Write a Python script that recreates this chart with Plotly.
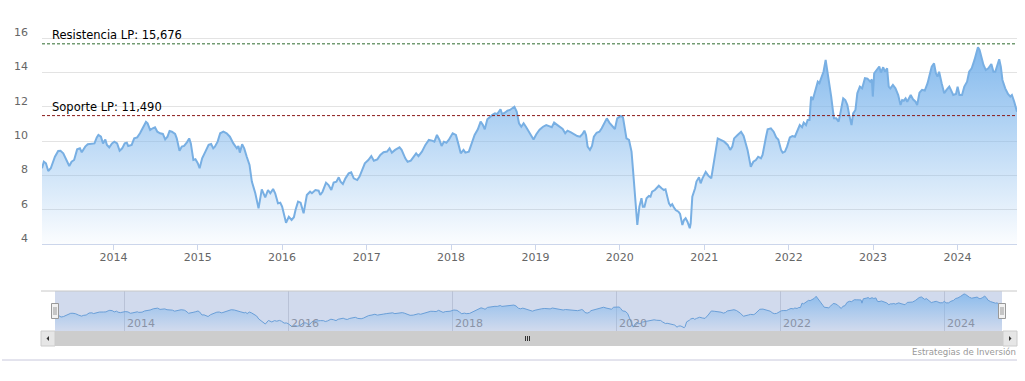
import plotly.graph_objects as go

# ---------------- data ----------------
dates = [
    "2013-02-26", "2013-03-06", "2013-03-15", "2013-03-25", "2013-04-05", "2013-04-13", "2013-04-23",
    "2013-05-07", "2013-05-17", "2013-05-29", "2013-06-10", "2013-06-24", "2013-07-04", "2013-07-15",
    "2013-07-28", "2013-08-09", "2013-08-17", "2013-09-01", "2013-09-12", "2013-09-29", "2013-10-11",
    "2013-10-21", "2013-10-28", "2013-11-08", "2013-11-17", "2013-11-27", "2013-12-04", "2013-12-14",
    "2013-12-26",
    "2014-01-05", "2014-01-17", "2014-01-28", "2014-02-08", "2014-02-19", "2014-02-28", "2014-03-06",
    "2014-03-21", "2014-04-01", "2014-04-14", "2014-04-26", "2014-05-10", "2014-05-22", "2014-05-29",
    "2014-06-09", "2014-06-20", "2014-06-30", "2014-07-10", "2014-07-22", "2014-08-03", "2014-08-13",
    "2014-08-23", "2014-09-01", "2014-09-11", "2014-09-25", "2014-10-02", "2014-10-14", "2014-10-24",
    "2014-11-03", "2014-11-15", "2014-11-25", "2014-12-02", "2014-12-13", "2014-12-22", "2015-01-01",
    "2015-01-09", "2015-01-20", "2015-02-03", "2015-02-17", "2015-02-28", "2015-03-09", "2015-03-16",
    "2015-03-28", "2015-04-08", "2015-04-22", "2015-05-06", "2015-05-20", "2015-06-04", "2015-06-19",
    "2015-06-26", "2015-07-02", "2015-07-12", "2015-07-21", "2015-08-01", "2015-08-13", "2015-08-23",
    "2015-09-07", "2015-09-21", "2015-10-05", "2015-10-20", "2015-11-01", "2015-11-11", "2015-11-23",
    "2015-12-02", "2015-12-14", "2015-12-24",
    "2016-01-01", "2016-01-18", "2016-01-30", "2016-02-11", "2016-02-21", "2016-02-28", "2016-03-10",
    "2016-03-21", "2016-04-03", "2016-04-17", "2016-05-01", "2016-05-09", "2016-05-24", "2016-06-07",
    "2016-06-14", "2016-06-24", "2016-07-09", "2016-07-20", "2016-08-01", "2016-08-11", "2016-08-23",
    "2016-09-02", "2016-09-10", "2016-09-20", "2016-10-01", "2016-10-15", "2016-10-26", "2016-11-06",
    "2016-11-21", "2016-12-01", "2016-12-12", "2016-12-24",
    "2017-01-08", "2017-01-21", "2017-02-01", "2017-02-16", "2017-03-01", "2017-03-15", "2017-03-30",
    "2017-04-10", "2017-04-20", "2017-05-04", "2017-05-23", "2017-06-01", "2017-06-17", "2017-06-27",
    "2017-07-11", "2017-07-23", "2017-08-03", "2017-08-13", "2017-08-28", "2017-09-12", "2017-09-27",
    "2017-10-11", "2017-10-21", "2017-11-01", "2017-11-12", "2017-11-21", "2017-12-01", "2017-12-12",
    "2017-12-22",
    "2018-01-08", "2018-01-22", "2018-02-01", "2018-02-12", "2018-02-24", "2018-03-04", "2018-03-19",
    "2018-04-03", "2018-04-13", "2018-04-27", "2018-05-09", "2018-05-19", "2018-05-27", "2018-06-07",
    "2018-06-18", "2018-06-29", "2018-07-10", "2018-07-20", "2018-08-03", "2018-08-10", "2018-08-22",
    "2018-09-02", "2018-09-13", "2018-09-23", "2018-10-02", "2018-10-12", "2018-10-22", "2018-11-01",
    "2018-11-11", "2018-11-21", "2018-12-05", "2018-12-15", "2018-12-24",
    "2019-01-05", "2019-01-19", "2019-02-03", "2019-02-17", "2019-03-01", "2019-03-13", "2019-03-23",
    "2019-04-03", "2019-04-14", "2019-04-29", "2019-05-10", "2019-05-20", "2019-06-04", "2019-06-18",
    "2019-07-01", "2019-07-13", "2019-07-24", "2019-08-01", "2019-08-08", "2019-08-15", "2019-08-25",
    "2019-09-03", "2019-09-11", "2019-09-23", "2019-10-05", "2019-10-15", "2019-10-26", "2019-11-06",
    "2019-11-17", "2019-11-29", "2019-12-11", "2019-12-21", "2019-12-31",
    "2020-01-06", "2020-01-15", "2020-01-21", "2020-01-30", "2020-02-10", "2020-02-21", "2020-02-28",
    "2020-03-09", "2020-03-17", "2020-03-26", "2020-04-04", "2020-04-10", "2020-04-17", "2020-04-26",
    "2020-05-06", "2020-05-13", "2020-05-20", "2020-06-01", "2020-06-09", "2020-06-18", "2020-06-30",
    "2020-07-10", "2020-07-17", "2020-07-26", "2020-08-01", "2020-08-08", "2020-08-15", "2020-08-22",
    "2020-08-30", "2020-09-11", "2020-09-18", "2020-09-28", "2020-10-05", "2020-10-12", "2020-10-20",
    "2020-10-30", "2020-11-03", "2020-11-10", "2020-11-22", "2020-11-28", "2020-12-09", "2020-12-16",
    "2020-12-24",
    "2021-01-07", "2021-01-19", "2021-01-31", "2021-02-14", "2021-02-28", "2021-03-13", "2021-03-28",
    "2021-04-12", "2021-04-23", "2021-05-02", "2021-05-10", "2021-05-25", "2021-06-09", "2021-06-20",
    "2021-06-30", "2021-07-07", "2021-07-21", "2021-08-01", "2021-08-12", "2021-08-22", "2021-09-03",
    "2021-09-10", "2021-09-25", "2021-10-02", "2021-10-16", "2021-10-28", "2021-11-08", "2021-11-17",
    "2021-11-29", "2021-12-06", "2021-12-16", "2021-12-25",
    "2022-01-06", "2022-01-17", "2022-01-28", "2022-02-08", "2022-02-18", "2022-02-28", "2022-03-07",
    "2022-03-17", "2022-03-24", "2022-04-01", "2022-04-08", "2022-04-15", "2022-04-23", "2022-04-30",
    "2022-05-07", "2022-05-14", "2022-05-25", "2022-06-01", "2022-06-10", "2022-06-17", "2022-06-24",
    "2022-07-04", "2022-07-11", "2022-07-16", "2022-07-26", "2022-08-05", "2022-08-14", "2022-08-25",
    "2022-09-03", "2022-09-12", "2022-09-20", "2022-09-30", "2022-10-07", "2022-10-17", "2022-10-25",
    "2022-11-05", "2022-11-15", "2022-11-27", "2022-12-08", "2022-12-20", "2022-12-27", "2022-12-31",
    "2023-01-06", "2023-01-21", "2023-01-28", "2023-02-04", "2023-02-14", "2023-02-22", "2023-03-03",
    "2023-03-10", "2023-03-17", "2023-03-28", "2023-04-08", "2023-04-20", "2023-04-30", "2023-05-07",
    "2023-05-14", "2023-05-22", "2023-05-29", "2023-06-13", "2023-06-23", "2023-07-04", "2023-07-11",
    "2023-07-21", "2023-08-01", "2023-08-13", "2023-08-25", "2023-09-01", "2023-09-12", "2023-09-22",
    "2023-09-30", "2023-10-07", "2023-10-14", "2023-10-25", "2023-11-05", "2023-11-15", "2023-11-27",
    "2023-12-04", "2023-12-14", "2023-12-26",
    "2024-01-02", "2024-01-10", "2024-01-21", "2024-01-31", "2024-02-12", "2024-02-21", "2024-03-03",
    "2024-03-15", "2024-03-22", "2024-03-30", "2024-04-06", "2024-04-13", "2024-04-23", "2024-05-03",
    "2024-05-14", "2024-05-27", "2024-06-05", "2024-06-13", "2024-06-20", "2024-06-30", "2024-07-07",
    "2024-07-14", "2024-07-26", "2024-08-07", "2024-08-17", "2024-08-24", "2024-09-03", "2024-09-15",
]

prices = [
    8.42, 8.80, 8.71, 8.26, 8.42, 8.71, 9.09,
    9.43, 9.44, 9.29, 8.90, 8.55, 8.80, 8.90,
    9.52, 9.58, 9.35, 9.68, 9.82, 9.83, 9.87,
    10.22, 10.36, 10.26, 9.87, 10.10, 9.78, 9.64,
    9.87,
    9.97, 9.87, 9.44, 9.58, 9.87, 9.91, 9.72,
    9.78, 10.16, 10.22, 10.46, 10.84, 11.12, 11.04,
    10.65, 10.75, 10.81, 10.55, 10.46, 10.42, 10.10,
    10.26, 10.59, 10.55, 10.42, 10.16, 9.44, 9.68,
    9.72, 9.93, 10.16, 9.87, 8.90, 8.94, 8.71,
    8.42, 9.00, 9.39, 9.78, 9.83, 9.58, 9.68,
    9.97, 10.46, 10.55, 10.46, 10.26, 9.87, 9.58,
    9.72, 9.33, 9.82, 9.58, 9.09, 8.61, 7.64,
    6.96, 6.08, 7.19, 6.72, 7.15, 6.96, 7.21,
    6.96, 6.37, 6.41,
    6.18, 5.24, 5.59, 5.40, 5.56, 5.98, 6.47,
    6.41, 5.79, 6.86, 7.05, 6.96, 7.15, 7.11,
    6.86, 7.05, 7.58, 7.44, 7.15, 7.58, 7.64,
    7.89, 7.64, 7.50, 7.83, 8.12, 8.18, 7.83,
    7.73, 7.93, 8.36, 8.71,
    8.90, 9.13, 8.86, 8.94, 9.19, 9.35, 9.39,
    9.58, 9.33, 9.49, 9.64, 9.49, 9.00, 8.80,
    8.86, 9.09, 9.29, 9.13, 9.39, 9.78, 10.07,
    10.03, 9.97, 10.36, 10.07, 9.72, 9.97, 9.91,
    10.07,
    10.46, 10.36, 9.87, 9.29, 9.49, 9.33, 9.39,
    9.97, 10.36, 10.69, 11.14, 10.94, 10.69, 11.27,
    11.43, 11.53, 11.62, 11.58, 11.86, 11.58, 11.66,
    11.78, 11.82, 11.91, 12.01, 11.72, 11.04, 10.84,
    11.04, 10.84, 10.55, 10.36, 10.10,
    10.40, 10.67, 10.84, 10.94, 10.88, 10.81, 11.08,
    10.98, 10.88, 10.71, 10.46, 10.61, 10.51, 10.40,
    10.30, 10.26, 10.42, 10.61, 10.36, 9.68, 9.49,
    9.72, 10.26, 10.49, 10.55, 10.75, 11.08, 11.33,
    11.08, 10.88, 10.71, 11.33, 11.43,
    11.47, 11.39, 10.94, 10.16, 10.07, 9.39, 8.22,
    6.57, 5.11, 6.18, 6.67, 6.18, 6.18, 6.67,
    6.80, 6.76, 7.05, 7.15, 7.25, 7.40, 7.25,
    7.15, 7.19, 6.72, 6.37, 6.22, 6.32, 6.14,
    5.98, 5.88, 5.75, 5.11, 5.40, 5.50, 5.30,
    4.92, 5.21, 6.76, 7.25, 7.64, 7.89, 7.54,
    7.83,
    8.20, 7.97, 7.83, 8.90, 10.16, 10.07, 9.97,
    9.78, 9.49, 9.68, 10.16, 10.36, 10.55, 10.30,
    9.87, 9.49, 8.51, 8.80, 8.90, 9.09, 9.00,
    9.19, 10.26, 10.69, 10.75, 10.55, 10.22, 10.10,
    9.49, 9.33, 9.39, 9.68,
    10.22, 10.30, 10.26, 10.65, 10.94, 10.81, 11.08,
    10.94, 11.23, 11.23, 12.60, 12.40, 12.75, 13.18,
    13.47, 13.38, 13.86, 14.06, 14.74, 14.15, 13.38,
    12.60, 11.82, 11.33, 11.33, 11.14, 11.72, 12.50,
    12.40, 12.11, 11.53, 10.94, 11.62, 11.82, 12.79,
    13.18, 13.08, 13.67, 13.65, 13.47, 13.60, 12.60,
    13.96, 14.19, 14.35, 14.00, 14.31, 14.05, 14.25,
    13.18, 13.08, 13.28, 13.08, 12.69, 12.11, 12.40,
    12.36, 12.50, 12.30, 12.69, 12.44, 12.30, 12.11,
    12.83, 12.99, 12.95, 13.38, 13.76, 14.35, 14.54,
    13.96, 13.76, 14.05, 13.38, 12.79, 12.99, 13.18,
    12.99, 12.69, 12.75,
    13.18, 12.69, 12.69, 13.18, 13.47, 14.05, 14.25,
    14.74, 15.13, 15.48, 15.32, 14.93, 14.44, 14.15,
    14.25, 14.50, 14.05, 14.05, 14.35, 14.78, 14.35,
    13.57, 13.08, 12.75, 12.60, 12.69, 12.30, 11.72,
]

resistance_value = 15.676
support_value = 11.490
resistance_label = "Resistencia LP"
support_label = "Soporte LP"

year_ticks = ["2014", "2015", "2016", "2017", "2018", "2019", "2020", "2021", "2022", "2023", "2024"]
nav_ticks = ["2014", "2016", "2018", "2020", "2022", "2024"]
y_ticks = [4, 6, 8, 10, 12, 14, 16, 18]
credit_text = "Estrategias de Inversión"

# ---------------- layout helpers ----------------
W, H = 1025, 381
FONT = "DejaVu Sans"


def px(x):
    return x / W


def py(y):
    return 1 - y / H


def fmt(v):
    return f"{v:,.3f}".replace(".", "#").replace(",", ".").replace("#", ",")


fig = go.Figure()

# main series
fig.add_trace(go.Scatter(
    x=dates, y=prices, mode="lines",
    line=dict(color="#78afe3", width=2),
    fill="tozeroy",
    fillgradient=dict(type="vertical",
                      colorscale=[[0, "rgba(124,181,236,0.03)"], [1, "rgba(124,181,236,0.95)"]],
                      start=y_ticks[0], stop=max(prices)),
    xaxis="x", yaxis="y", hoverinfo="skip", showlegend=False,
))

# navigator series
fig.add_trace(go.Scatter(
    x=dates, y=prices, mode="lines",
    line=dict(color="#6a9fd8", width=1),
    fill="tozeroy",
    fillgradient=dict(type="vertical",
                      colorscale=[[0, "rgba(124,181,236,0.0)"], [1, "rgba(124,181,236,0.8)"]],
                      start=4, stop=max(prices)),
    xaxis="x2", yaxis="y2", hoverinfo="skip", showlegend=False,
))

tick_font = dict(family=FONT, size=11, color="#666666")

fig.update_layout(
    width=W, height=H, autosize=False,
    margin=dict(l=0, r=0, t=0, b=0, pad=0),
    paper_bgcolor="white", plot_bgcolor="rgba(0,0,0,0)",
    hovermode=False, showlegend=False,
    xaxis=dict(
        domain=[px(42), px(1017)], range=[dates[0], dates[-1]], type="date",
        tickvals=[f"{y}-01-01" for y in year_ticks], ticktext=year_ticks,
        ticks="outside", ticklen=5, tickcolor="#ccd6eb",
        showline=True, linecolor="#ccd6eb", linewidth=1,
        showgrid=False, zeroline=False, tickfont=tick_font, anchor="y",
        ticklabelstandoff=-2, automargin=False,
    ),
    yaxis=dict(
        domain=[py(244), py(4)], range=[y_ticks[0], y_ticks[-1]],
        tickvals=y_ticks, ticktext=[str(v) for v in y_ticks[:-1]] + [""],
        showgrid=True, gridcolor="#e3e3e3", gridwidth=1,
        zeroline=False, showline=False, ticks="",
        tickfont=tick_font, ticklabelshift=-6, ticklabelstandoff=13, anchor="x",
        automargin=False,
    ),
    xaxis2=dict(
        domain=[px(55), px(1002)], range=[dates[0], dates[-1]], type="date",
        tickvals=[f"{y}-01-01" for y in nav_ticks], showticklabels=False,
        showgrid=True, gridcolor="rgba(140,150,175,0.35)", gridwidth=1,
        zeroline=False, showline=False, ticks="", anchor="y2", automargin=False,
    ),
    yaxis2=dict(
        domain=[py(331), py(291)], range=[3.9, 16.4],
        showgrid=False, showticklabels=False, zeroline=False, showline=False,
        ticks="", anchor="x2", automargin=False,
    ),
)

shapes = []
# resistance / support lines
shapes.append(dict(type="line", xref="x domain", yref="y", x0=0, x1=1,
                   y0=resistance_value, y1=resistance_value,
                   line=dict(color="#2e6b2e", width=1, dash="3px,2px"), layer="above"))
shapes.append(dict(type="line", xref="x domain", yref="y", x0=0, x1=1,
                   y0=support_value, y1=support_value,
                   line=dict(color="#8b1a1a", width=1, dash="3px,2px"), layer="above"))

# navigator mask
shapes.append(dict(type="rect", xref="paper", yref="paper",
                   x0=px(55), x1=px(1002), y0=py(331), y1=py(291),
                   fillcolor="rgba(102,133,194,0.3)", line=dict(width=0), layer="below"))
# navigator top outline
shapes.append(dict(type="line", xref="paper", yref="paper",
                   x0=px(41), x1=px(1017), y0=py(291), y1=py(291),
                   line=dict(color="#c8c8c8", width=1)))

# scrollbar
shapes.append(dict(type="rect", xref="paper", yref="paper",
                   x0=px(41), x1=px(1017), y0=py(346), y1=py(331),
                   fillcolor="#cdcdcd", line=dict(width=0)))
for bx0, bx1 in ((41, 55), (1003, 1017)):
    shapes.append(dict(type="rect", xref="paper", yref="paper",
                       x0=px(bx0), x1=px(bx1), y0=py(346), y1=py(331),
                       fillcolor="#e6e6e6", line=dict(color="#cccccc", width=1)))
# arrows
shapes.append(dict(type="path", xref="paper", yref="paper",
                   path=f"M {px(46.5)} {py(338.5)} L {px(49)} {py(336)} L {px(49)} {py(341)} Z",
                   fillcolor="#333333", line=dict(width=0)))
shapes.append(dict(type="path", xref="paper", yref="paper",
                   path=f"M {px(1011.5)} {py(338.5)} L {px(1009)} {py(336)} L {px(1009)} {py(341)} Z",
                   fillcolor="#333333", line=dict(width=0)))
# grip
for gx in (525.5, 527.5, 529.5):
    shapes.append(dict(type="line", xref="paper", yref="paper",
                       x0=px(gx), x1=px(gx), y0=py(336), y1=py(341),
                       line=dict(color="#333333", width=1)))

# handles
for hx in (55, 1002):
    shapes.append(dict(type="rect", xref="paper", yref="paper",
                       x0=px(hx - 3.5), x1=px(hx + 3.5), y0=py(318.5), y1=py(303.5),
                       fillcolor="#f2f2f2", line=dict(color="#999999", width=1)))
    for lx in (hx - 1, hx + 1):
        shapes.append(dict(type="line", xref="paper", yref="paper",
                           x0=px(lx), x1=px(lx), y0=py(307), y1=py(315),
                           line=dict(color="#999999", width=1)))

# container bottom line
shapes.append(dict(type="line", xref="paper", yref="paper",
                   x0=px(2), x1=px(1017), y0=py(360), y1=py(360),
                   line=dict(color="#c8c8dc", width=1)))

fig.update_layout(shapes=shapes)

annotations = [
    dict(text=f"{resistance_label}: {fmt(resistance_value)}", xref="paper", yref="y",
         x=px(50), y=resistance_value, xanchor="left", yanchor="bottom", showarrow=False,
         font=dict(family=FONT, size=11.5, color="#000000")),
    dict(text=f"{support_label}: {fmt(support_value)}", xref="paper", yref="y",
         x=px(50), y=support_value, xanchor="left", yanchor="bottom", showarrow=False,
         font=dict(family=FONT, size=11.5, color="#000000")),
    dict(text=credit_text, xref="paper", yref="paper", x=px(1018), y=py(352),
         xanchor="right", yanchor="middle", showarrow=False,
         font=dict(family=FONT, size=8.6, color="#999999")),
]
for t in nav_ticks:
    annotations.append(dict(text=t, xref="x2", yref="paper", x=f"{t}-01-01", y=py(323),
                            xanchor="left", yanchor="middle", xshift=1, showarrow=False,
                            font=dict(family=FONT, size=11, color="#8a93a6")))
fig.update_layout(annotations=annotations)

fig.write_html("out.html", config={"displayModeBar": False},
               post_script="document.body.style.margin='0';")
